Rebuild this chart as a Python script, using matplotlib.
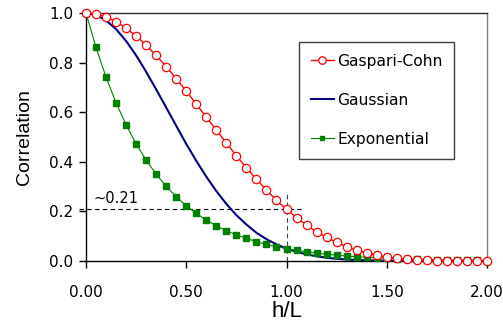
import matplotlib
matplotlib.use("Agg")
import matplotlib.pyplot as plt

h_over_L = [round(0.05 * i, 2) for i in range(41)]

gaspari_cohn = [1.000, 0.996, 0.984, 0.965, 0.939, 0.907, 0.870, 0.829, 0.784, 0.735,
                0.685, 0.633, 0.580, 0.528, 0.476, 0.425, 0.376, 0.330, 0.286, 0.245,
                0.208, 0.175, 0.145, 0.118, 0.095, 0.075, 0.058, 0.044, 0.033, 0.024,
                0.016, 0.011, 0.007, 0.004, 0.0024, 0.0013, 0.0006, 0.0003, 0.0001, 0.0000,
                0.0000]

gaussian = [1.000, 0.993, 0.970, 0.935, 0.887, 0.829, 0.763, 0.692, 0.619, 0.545,
            0.472, 0.404, 0.340, 0.282, 0.230, 0.185, 0.147, 0.114, 0.088, 0.067,
            0.050, 0.037, 0.027, 0.019, 0.013, 0.009, 0.006, 0.004, 0.003, 0.002,
            0.001, 0.001, 0.000, 0.000, 0.000, 0.000, 0.000, 0.000, 0.000, 0.000,
            0.000]

exponential = [1.000, 0.861, 0.741, 0.638, 0.549, 0.472, 0.407, 0.350, 0.301, 0.259,
               0.223, 0.192, 0.165, 0.142, 0.122, 0.105, 0.091, 0.078, 0.067, 0.058,
               0.050, 0.043, 0.037, 0.032, 0.027, 0.024, 0.020, 0.017, 0.015, 0.013,
               0.011, 0.010, 0.008, 0.007, 0.006, 0.005, 0.005, 0.004, 0.003, 0.003,
               0.002]

x_ticks = [0.0, 0.5, 1.0, 1.5, 2.0]
x_tick_labels = ["0.00", "0.50", "1.00", "1.50", "2.00"]
y_ticks = [0.0, 0.2, 0.4, 0.6, 0.8, 1.0]
y_tick_labels = ["0.0", "0.2", "0.4", "0.6", "0.8", "1.0"]
marker_value = 0.21
marker_x = 1.0
annotation = "~0.21"

plt.rcParams['font.family'] = ['DejaVu Sans']

fig = plt.figure(figsize=(5.03, 3.32), dpi=100)
ax = fig.add_axes([86/503, 1-261/332, 401/503, 248/332])

ax.plot(h_over_L, gaussian, color='#000080', lw=1.5, label='Gaussian', zorder=3)
ax.plot(h_over_L, exponential, color='#008000', lw=0.8, marker='s', ms=3.8,
        mfc='#008000', mec='#008000', label='Exponential', zorder=4)
ax.plot(h_over_L, gaspari_cohn, color='#ff0000', lw=1.0, marker='o', ms=6.0,
        mfc='white', mec='#ff0000', mew=0.9, label='Gaspari-Cohn', zorder=5)
for ln in ax.lines:
    ln.set_clip_on(False)

# dashed reference lines
ax.plot([-0.035, 1.08], [marker_value, marker_value], color='black', lw=0.8,
        ls=(0, (4, 3)), zorder=2, clip_on=False)
ax.plot([marker_x, marker_x], [0, 0.27], color='#404040', lw=0.8,
        ls=(0, (4, 3)), zorder=2)
ax.text(0.035, marker_value + 0.012, annotation, fontsize=10.5, ha='left', va='bottom')

ax.set_xlim(0, 2.0)
ax.set_ylim(0, 1.0)
ax.set_xticks(x_ticks)
ax.set_xticklabels(x_tick_labels)
ax.set_yticks(y_ticks)
ax.set_yticklabels(y_tick_labels)
ax.tick_params(axis='both', labelsize=11, length=5, width=1, direction='out', color='black')
ax.tick_params(axis='x', pad=12)
ax.tick_params(axis='y', pad=4)

ax.spines['top'].set_color('#303030')
ax.spines['right'].set_color('#808080')
ax.spines['left'].set_color('black')
ax.spines['bottom'].set_color('black')
for s in ax.spines.values():
    s.set_linewidth(1.0)

ax.set_xlabel('h/L', fontsize=16, family='Liberation Sans', labelpad=1)
ax.set_ylabel('Correlation', fontsize=14, family='Liberation Sans', labelpad=12)

handles, labels = ax.get_legend_handles_labels()
order = [labels.index('Gaspari-Cohn'), labels.index('Gaussian'), labels.index('Exponential')]
leg = ax.legend([handles[i] for i in order], [labels[i] for i in order],
                loc='upper left', bbox_to_anchor=(299/503, 1-42/332),
                bbox_transform=fig.transFigure, fontsize=11.2, frameon=True,
                fancybox=False, edgecolor='#404040', framealpha=1,
                labelspacing=1.55, handlelength=1.5, handletextpad=0.2,
                borderpad=0.75, borderaxespad=0, markerscale=0.9)
leg.get_frame().set_linewidth(1.0)

fig.savefig('out.png', dpi=100)
